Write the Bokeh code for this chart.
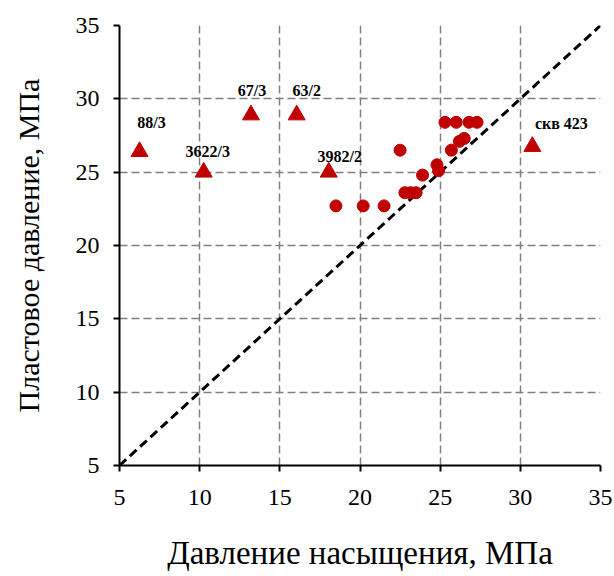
from bokeh.plotting import figure
from bokeh.models import Range1d, FixedTicker, ColumnDataSource
from bokeh.embed import file_html
from bokeh.resources import INLINE
from bokeh.core.properties import value

# Data
tri_names = ["88/3", "3622/3", "67/3", "63/2", "3982/2", "скв 423"]
tri_x = [6.25, 10.25, 13.2, 16.05, 18.05, 30.75]
tri_y = [26.4, 25.0, 28.9, 28.9, 25.0, 26.75]
lab_dx = [12, 4, 1, 10, 11, 29]
lab_dy = [-29, -21, -24, -24, -16, -23]

circ_x = [25.3, 26.0, 26.8, 27.3, 26.2, 26.5, 25.7, 22.5, 24.8, 24.9, 23.9,
          22.8, 23.15, 23.5, 18.5, 20.2, 21.5]
circ_y = [28.4, 28.4, 28.4, 28.4, 27.1, 27.3, 26.5, 26.5, 25.5, 25.1, 24.8,
          23.6, 23.6, 23.6, 22.7, 22.7, 22.7]

line_x = [5, 35]
line_y = [5, 35]

ticks = [5, 10, 15, 20, 25, 30, 35]

RED = "#C00000"
FONT = "'Times New Roman', 'Liberation Serif', 'DejaVu Serif', serif"

p = figure(width=614, height=576, output_backend="svg", toolbar_location=None,
           x_range=Range1d(5, 35), y_range=Range1d(5, 35))
p.min_border_left = 119
p.min_border_right = 14
p.min_border_top = 25
p.min_border_bottom = 111
p.outline_line_color = None
p.background_fill_color = "white"
p.border_fill_color = "white"

for ax in (p.xaxis[0], p.yaxis[0]):
    ax.ticker = FixedTicker(ticks=ticks)
    ax.minor_tick_line_color = None
    ax.axis_line_color = "black"
    ax.axis_line_width = 2
    ax.major_tick_line_color = "black"
    ax.major_tick_line_width = 2
    ax.major_tick_out = 6
    ax.major_tick_in = 0
    ax.major_label_text_font = FONT
    ax.major_label_text_font_size = "24px"
    ax.major_label_text_color = "black"
    ax.axis_label_text_font = FONT
    ax.axis_label_text_font_style = "normal"
    ax.axis_label_text_color = "black"

p.xaxis[0].axis_label = "Давление насыщения, МПа"
p.yaxis[0].axis_label = "Пластовое давление, МПа"
p.xaxis[0].axis_label_text_font_size = "33px"
p.yaxis[0].axis_label_text_font_size = "30px"
p.xaxis[0].major_label_standoff = 18
p.yaxis[0].major_label_standoff = 14
p.xaxis[0].axis_label_standoff = 27
p.yaxis[0].axis_label_standoff = 28

for g in (p.xgrid[0], p.ygrid[0]):
    g.ticker = FixedTicker(ticks=ticks)
    g.grid_line_color = "#808080"
    g.grid_line_width = 1.5
    g.grid_line_dash = "8 4"

p.line(line_x, line_y, line_color="black", line_width=3, line_dash="9 5")

p.scatter(circ_x, circ_y, marker="circle", size=12, fill_color=RED,
          line_color=RED)

src = ColumnDataSource(dict(x=tri_x, y=tri_y, name=tri_names,
                            dx=lab_dx, dy=lab_dy))
p.scatter("x", "y", source=src, marker="triangle", size=17, fill_color=RED,
          line_color=RED)
p.text("x", "y", text="name", source=src, x_offset="dx", y_offset="dy",
       text_font=value(FONT), text_font_style="bold", text_font_size="16px",
       text_align="center", text_baseline="middle", text_color="black")

open("out.html", "w").write(file_html(p, INLINE))
